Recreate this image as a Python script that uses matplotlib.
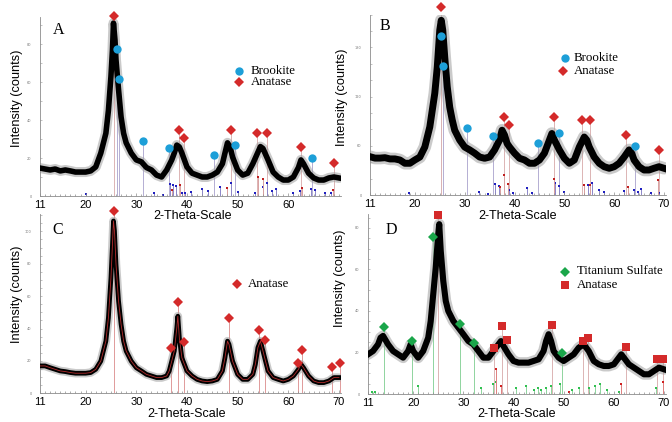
import matplotlib.pyplot as plt
from matplotlib.lines import Line2D
from matplotlib.ticker import MultipleLocator, FixedLocator

# ---------------- data: 2-theta (deg) and intensity (counts) ----------------
a_theta = [11, 12, 13, 14, 15, 16, 17, 18, 19, 20, 21, 22, 23, 24, 24.5, 25, 25.3, 25.5, 25.8,
           26, 26.5, 27, 27.5, 28, 29, 30, 31, 32, 33, 34, 35, 36, 37, 37.5, 38, 38.5, 39, 40,
           41, 42, 43, 44, 45, 46, 47, 47.5, 48, 48.5, 49, 50, 51, 52, 53, 54, 54.5, 55, 56,
           57, 58, 59, 60, 61, 62, 62.5, 63, 64, 65, 66, 67, 68, 69, 70]
a_counts = [14.7, 14.2, 13.7, 14.2, 13.2, 13.7, 13.2, 12.6, 12.6, 12.6, 13.2, 15.3, 22.6, 33, 45,
            63, 77, 91, 82, 71.6, 56, 41.6, 33, 28, 22.6, 19, 18, 15, 13.7, 11, 10, 13.7, 19,
            22.6, 26.8, 25.8, 22.6, 15.3, 12, 11, 10, 10, 11, 12.6, 17, 22.6, 28, 26, 20.5,
            13.7, 11, 12, 17, 23, 26, 25, 19, 12.6, 10, 8.4, 8.4, 10, 15, 19, 17, 12, 9.5,
            8.4, 8.4, 9.5, 10, 9.5]

b_theta = [11, 12, 13, 14, 15, 16, 17, 18, 19, 20, 21, 22, 23, 24, 24.5, 25, 25.3, 25.6, 26,
           26.5, 27, 27.5, 28, 29, 30, 31, 32, 33, 34, 35, 36, 37, 37.5, 38, 38.5, 39, 40, 41,
           42, 43, 44, 45, 46, 47, 47.5, 48, 49, 50, 51, 52, 53, 54, 54.5, 55, 56, 57, 58, 59,
           60, 61, 62, 63, 63.5, 64, 65, 66, 67, 68, 69, 70]
b_counts = [46.7, 45, 45, 45.5, 44, 44, 42.7, 38.7, 38.7, 42.7, 46.3, 58.5, 83, 124, 156, 201,
            213, 201, 168, 132, 107, 91.5, 79, 67, 58.5, 55, 51, 46.3, 44.8, 46.3, 55, 67, 79,
            73, 63, 58.5, 51, 44.8, 42.7, 38.7, 38.7, 42.7, 51, 67, 75, 67, 55, 44.8, 38.7,
            42.7, 58.5, 70.7, 67, 58.5, 46.3, 38.7, 34.5, 32.6, 34.5, 38.7, 46.3, 55, 51, 42.7,
            34.5, 30.5, 30.5, 32.6, 34.5, 32.6]

c_theta = [11, 12, 13, 14, 15, 16, 17, 18, 19, 20, 21, 22, 23, 24, 24.5, 25, 25.3, 25.5, 25.7,
           26, 26.5, 27, 27.5, 28, 29, 30, 31, 32, 33, 34, 35, 36, 36.5, 37, 37.5, 38, 38.2,
           38.5, 39, 40, 41, 42, 43, 44, 45, 46, 47, 47.5, 48, 48.3, 49, 50, 51, 52, 53, 53.5,
           54, 54.5, 55, 55.5, 56, 57, 58, 59, 60, 61, 62, 62.5, 63, 64, 65, 66, 67, 68, 69, 70]
c_counts = [16.9, 16.9, 15.8, 14.8, 13.8, 13.4, 12.8, 12.4, 12.4, 12.4, 12.8, 14.8, 19.9, 32.2,
            46.6, 71.3, 91.9, 106.4, 100.2, 79.6, 57, 42.6, 32.2, 26.1, 19.9, 15.8, 13.8, 11.7,
            10.7, 9.7, 9.7, 10.7, 13.8, 19.9, 26.1, 40.5, 47.6, 34.3, 21.9, 13.8, 10.7, 8.6,
            7.6, 7.2, 7.6, 8.6, 13.8, 21.9, 32.2, 30.2, 19.9, 11.7, 8.6, 8.6, 11.7, 17.9, 28.2,
            32.2, 26.1, 19.9, 13.8, 9.7, 8.6, 7.6, 8.6, 10.7, 14.8, 17.9, 15.8, 10.7, 7.6, 6.6,
            6.6, 7.6, 9.7, 9.7]

d_theta = [11, 12, 13, 13.5, 14, 15, 16, 17, 18, 19, 19.5, 20, 21, 22, 23, 23.5, 24, 24.5, 25,
           25.2, 25.5, 26, 26.5, 27, 28, 29, 30, 31, 32, 33, 34, 35, 36, 37, 37.5, 38, 39, 40,
           41, 42, 43, 44, 45, 46, 46.5, 47, 47.5, 48, 49, 50, 51, 52, 53, 54, 55, 56, 57, 58,
           59, 60, 61, 61.5, 62, 63, 64, 65, 66, 67, 68, 69, 70]
d_counts = [19.1, 20.7, 23.9, 27.1, 28, 23.9, 20.7, 19.1, 17.5, 20.7, 23.9, 20.7, 17.5, 20.7,
            27.1, 35.2, 48, 60.9, 77, 81.8, 68.9, 54.5, 44.8, 40, 35.2, 32, 28.8, 25.5, 23.9,
            20.7, 17.5, 17.5, 20.7, 23.9, 25.5, 23.1, 19.1, 15.9, 15.1, 15.1, 15.1, 15.9, 16.7,
            20.7, 25.5, 28.8, 25.5, 20.7, 17.5, 15.9, 17.5, 19.1, 22.3, 23.9, 20.7, 15.9, 14.3,
            13.5, 13.5, 14.3, 17.5, 19.1, 17.5, 14.3, 12.7, 11.1, 9.5, 9.5, 11.1, 12.7, 11.9]

# phase markers (position, height)
a_brookite_x = [26.1, 26.5, 31.4, 36.4, 45.4, 49.4, 64.6]
a_brookite_y = [77.4, 61.6, 28.9, 25.3, 21.6, 26.8, 20]
a_anatase_x = [25.7, 38.5, 39.5, 48.6, 53.9, 55.7, 62.6, 69.1]
a_anatase_y = [94.7, 34.7, 30.5, 34.7, 33.2, 33.2, 25.8, 17.4]

b_brookite_x = [25.2, 25.7, 30.5, 35.7, 44.8, 49.0, 64.2]
b_brookite_y = [193.9, 157.3, 81.3, 72.3, 63, 75.2, 60.1]
b_anatase_x = [25.3, 37.8, 38.8, 48.0, 53.5, 55.2, 62.4, 68.9]
b_anatase_y = [229.6, 94.7, 85.4, 94.7, 91.5, 91.5, 73.2, 54.9]

c_anatase_x = [25.7, 36.9, 38.3, 39.4, 48.3, 54.3, 55.5, 62.0, 62.7, 68.6, 70.2]
c_anatase_y = [112.6, 28.2, 56.4, 31.7, 46.7, 38.9, 32.9, 18.5, 26.5, 16.2, 18.5]

d_sulfate_x = [14.1, 19.8, 24.0, 29.4, 32.2, 49.7]
d_sulfate_y = [32.4, 25.5, 75.7, 33.6, 24.4, 19.6]
d_anatase_x = [25.0, 36.1, 37.7, 38.7, 47.7, 53.8, 54.9, 62.4, 68.7, 69.9]
d_anatase_y = [86.1, 22.3, 32.8, 26, 33.2, 25.5, 26.8, 22.8, 16.7, 16.7]

# reference pattern dots near the baseline
a_ref_brookite_x = [20.0, 33.5, 35.3, 36.7, 37.3, 37.8, 39.1, 39.6, 40.7, 43.0, 44.2, 46.5, 48.7,
                    50.0, 53.5, 55.1, 55.8, 56.8, 57.6, 61.0, 62.4, 64.4, 65.3, 67.3, 68.5]
a_ref_brookite_h = [0.9, 1.7, 0.5, 6.3, 5.8, 5.3, 1.7, 1.4, 2.3, 3.5, 2.8, 4.6, 7, 2.3, 1.7, 4.9,
                    7, 2.6, 3.9, 1.7, 2.8, 3.5, 3.2, 1.4, 1.7]
a_ref_anatase_x = [37.0, 38.6, 48.0, 54.0, 55.1, 62.7, 68.8]
a_ref_anatase_h = [3, 6, 4, 10, 9, 4, 3]

b_ref_brookite_x = [18.9, 32.9, 34.6, 36.0, 36.9, 38.9, 39.6, 42.6, 43.6, 48.2, 48.9, 50.0,
                    54.7, 55.5, 57.0, 58.0, 62.0, 63.9, 64.7, 65.4, 67.4, 69.0]
b_ref_brookite_h = [2, 3.3, 1.2, 14, 11, 6, 3, 8, 3, 15, 11, 4, 12, 15, 6, 4, 5, 6, 4, 7, 3, 3]
b_ref_anatase_x = [37.0, 37.8, 38.6, 48.0, 53.9, 55.1, 62.7, 68.8]
b_ref_anatase_h = [10, 25, 14, 20, 12, 12, 10, 18]

d_ref_sulfate_x = [11.7, 12.3, 20.9, 33.6, 36.0, 36.6, 40.5, 42.5, 44.0, 44.8, 45.5, 46.5, 47.5,
                   49.3, 51.6, 53.0, 55.0, 56.3, 57.2, 58.7, 61.0, 68.4]
d_ref_sulfate_h = [1, 1, 4, 3, 5, 6, 3, 4, 2, 3, 2, 3, 4, 5, 2, 3, 3, 4, 5, 2, 1, 3]
d_ref_anatase_x = [36.5, 37.5, 51.0, 61.5, 69.8]
d_ref_anatase_h = [12, 4, 1, 5, 6]

x_ticks = [11, 20, 30, 40, 50, 60, 70]

# ---------------- figure ----------------
W, H = 672, 422
fig = plt.figure(figsize=(W / 100, H / 100), dpi=100)
SANS = 'Liberation Sans'
SERIF = 'Liberation Serif'
BLUE = '#1d9fd8'
RED = '#d42a2a'
GREEN = '#1aa64a'


def fx(x):
    return x / W


def fy(y):
    return 1 - y / H


def make_axes(left, top, right, bottom, ylim, ymajor, yminor, xt):
    ax = fig.add_axes([fx(left), fy(bottom), (right - left) / W, (bottom - top) / H])
    ax.set_xlim(11, 70.4)
    ax.set_ylim(0, ylim)
    ax.patch.set_alpha(0)
    for s in ['top', 'right']:
        ax.spines[s].set_visible(False)
    for s in ['left', 'bottom']:
        ax.spines[s].set_color('#8c8c8c')
        ax.spines[s].set_linewidth(0.6)
    ax.xaxis.set_major_locator(FixedLocator(xt))
    ax.xaxis.set_minor_locator(MultipleLocator(1))
    ax.yaxis.set_major_locator(MultipleLocator(ymajor))
    ax.yaxis.set_minor_locator(MultipleLocator(yminor))
    ax.tick_params(axis='x', which='both', direction='in', color='#8c8c8c', width=0.5)
    ax.tick_params(axis='x', which='major', length=2.5, pad=3, labelsize=8)
    ax.tick_params(axis='x', which='minor', length=1.5)
    ax.tick_params(axis='y', which='both', direction='in', color='#aaaaaa', width=0.5,
                   length=1.5, labelsize=2.5, labelcolor='#777777', pad=6)
    for lab in ax.get_xticklabels():
        lab.set_fontfamily(SANS)
    return ax


def trace(ax, x, y, band):
    ax.plot(x, y, color='#a0a0a0', lw=band * 1.8, alpha=0.55, zorder=2,
            solid_joinstyle='round', solid_capstyle='round')
    ax.plot(x, y, color='black', lw=band, zorder=3, solid_joinstyle='round')


def sticks(ax, x, h, color, dot=None):
    ax.vlines(x, 0, h, colors=color, lw=0.7, zorder=1)
    if dot is not None:
        ax.plot(x, h, 's', color=dot, ms=1.6, mew=0, zorder=1)


def marks(ax, x, y, marker, color, ms):
    ax.plot(x, y, marker, color=color, ms=ms, mew=0, zorder=5, clip_on=False)


def legend_entry(px, py, marker, color, ms, label, tx):
    fig.add_artist(Line2D([fx(px)], [fy(py)], marker=marker, color=color, ms=ms, mew=0,
                          transform=fig.transFigure))
    fig.text(fx(tx), fy(py), label, fontfamily=SERIF, fontsize=9.3, ha='left', va='center')


# Panel A
axA = make_axes(40, 17.4, 341, 196, 94, 20, 10, x_ticks[:-1])
sticks(axA, a_brookite_x, a_brookite_y, '#b4aed3')
sticks(axA, a_anatase_x, a_anatase_y, '#dcb4b4')
sticks(axA, a_ref_brookite_x, a_ref_brookite_h, '#8c86c8', '#2020c0')
sticks(axA, a_ref_anatase_x, a_ref_anatase_h, '#d8a0a0', '#c02020')
trace(axA, a_theta, a_counts, 4.0)
marks(axA, a_brookite_x, a_brookite_y, 'o', BLUE, 6)
marks(axA, a_anatase_x, a_anatase_y, 'D', RED, 5.5)

# Panel B
axB = make_axes(370, 14.6, 666, 195, 220, 60, 20, x_ticks)
sticks(axB, b_brookite_x, b_brookite_y, '#b4aed3')
sticks(axB, b_anatase_x, b_anatase_y, '#dcb4b4')
sticks(axB, b_ref_brookite_x, b_ref_brookite_h, '#8c86c8', '#2020c0')
sticks(axB, b_ref_anatase_x, b_ref_anatase_h, '#d8a0a0', '#c02020')
trace(axB, b_theta, b_counts, 5.0)
marks(axB, b_brookite_x, b_brookite_y, 'o', BLUE, 6)
marks(axB, b_anatase_x, b_anatase_y, 'D', RED, 5.5)

# Panel C
axC = make_axes(40, 214.3, 341, 393.3, 110.5, 20, 5, x_ticks)
sticks(axC, c_anatase_x, c_anatase_y, '#e09a9a')
trace(axC, c_theta, c_counts, 3.4)
axC.plot(c_theta, c_counts, color='#d03434', lw=0.6, zorder=4, alpha=0.85)
marks(axC, c_anatase_x, c_anatase_y, 'D', RED, 5.5)

# Panel D
axD = make_axes(368, 214, 666, 394, 86.7, 20, 5, x_ticks)
sticks(axD, d_sulfate_x, d_sulfate_y, '#8fd49f')
sticks(axD, d_anatase_x, d_anatase_y, '#dcb4b4')
sticks(axD, d_ref_sulfate_x, d_ref_sulfate_h, '#8fd49f', '#30c050')
sticks(axD, d_ref_anatase_x, d_ref_anatase_h, '#e08080', '#d02020')
trace(axD, d_theta, d_counts, 4.4)
marks(axD, d_sulfate_x, d_sulfate_y, 'D', GREEN, 5.5)
marks(axD, d_anatase_x, d_anatase_y, 's', RED, 5.5)

# axis labels, panel letters
for (x, y) in [(17, 98), (342, 97), (17, 294), (340, 278)]:
    fig.text(fx(x), fy(y), 'Intensity (counts)', fontfamily=SANS, fontsize=9.2,
             rotation=90, ha='center', va='center')
for (x, y) in [(193, 216), (518, 216), (187, 414), (517, 414)]:
    fig.text(fx(x), fy(y), '2-Theta-Scale', fontfamily=SANS, fontsize=9,
             ha='center', va='center')
for (x, y, t) in [(58.5, 30, 'A'), (384.5, 25.5, 'B'), (57.5, 229.5, 'C'), (391, 229.5, 'D')]:
    fig.text(fx(x), fy(y), t, fontfamily=SERIF, fontsize=11.5, ha='center', va='center')

# legends
legend_entry(239, 71, 'o', BLUE, 6, 'Brookite', 251)
legend_entry(239, 82, 'D', RED, 5.5, 'Anatase', 251)
legend_entry(565, 58, 'o', BLUE, 6, 'Brookite', 574)
legend_entry(563, 70.5, 'D', RED, 5.5, 'Anatase', 574)
legend_entry(236.7, 283.7, 'D', RED, 5.5, 'Anatase', 248)
legend_entry(565, 271.5, 'D', GREEN, 5.5, 'Titanium Sulfate', 577)
legend_entry(565, 284.5, 's', RED, 5.5, 'Anatase', 577)

fig.savefig('out.png', dpi=100)
